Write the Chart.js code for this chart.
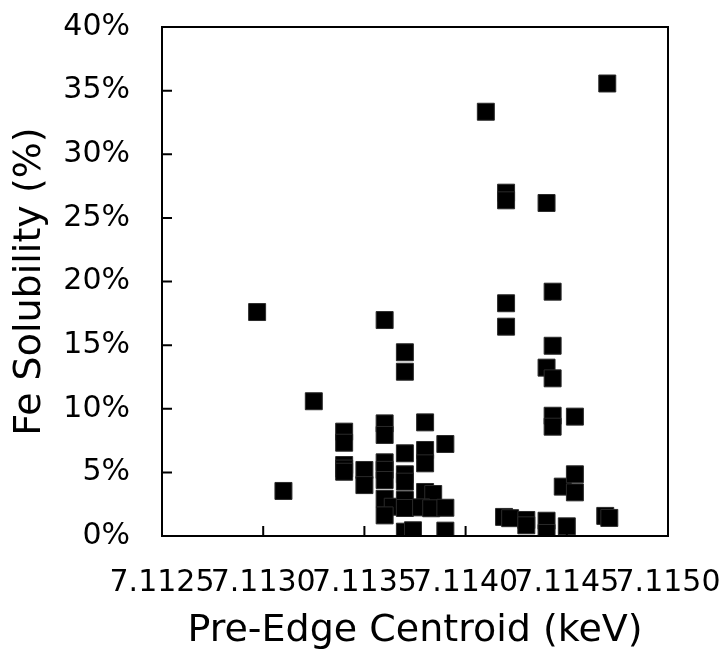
<!DOCTYPE html>
<html>
<head>
<meta charset="utf-8">
<script src="https://cdn.jsdelivr.net/npm/chart.js@4"></script>
<style>
  html, body { margin: 0; padding: 0; background: #fff; }
  #wrap { width: 727px; height: 650px; }
</style>
</head>
<body>
<div id="wrap"><canvas id="chart"></canvas></div>
<script>
// ============ Data ============
const xTicks = [7.1125, 7.1130, 7.1135, 7.1140, 7.1145, 7.1150];
const yTicks = [0, 5, 10, 15, 20, 25, 30, 35, 40];

// pre-edge centroid (keV)
const centroid = [
    7.11297, 7.11310, 7.11325,
    7.11340, 7.11340, 7.11340, 7.11340, 7.11340,
    7.11350, 7.11350,
    7.11360, 7.11360, 7.11360, 7.11360, 7.11360, 7.11360, 7.11360, 7.11364, 7.11360,
    7.11370, 7.11370, 7.11370, 7.11370, 7.11370, 7.11370, 7.11370, 7.11370, 7.11374,
    7.11380, 7.11380, 7.11380, 7.11380, 7.11384, 7.11378, 7.11383,
    7.11390, 7.11390, 7.11390,
    7.11410,
    7.11420, 7.11420, 7.11420, 7.11420, 7.11419, 7.11422,
    7.11430, 7.11430,
    7.11440, 7.11440, 7.11440, 7.11440,
    7.11443, 7.11443, 7.11443, 7.11443, 7.11443,
    7.11448,
    7.11454, 7.11454, 7.11454,
    7.11450,
    7.11470, 7.11469, 7.11471
];

// Fe solubility (%)
const solubility = [
    17.6, 3.54, 10.59,
    8.2, 7.33, 5.58, 5.3, 5.05,
    5.19, 4.0,
    16.97, 8.85, 7.94, 5.79, 5.2, 4.4, 2.93, 2.3, 1.62,
    14.44, 12.91, 6.5, 4.85, 4.27, 2.83, 2.2, 0.34, 0.45,
    8.93, 6.76, 5.71, 3.46, 3.3, 2.25, 2.18,
    7.23, 2.22, 0.42,
    33.34,
    26.98, 26.38, 18.29, 16.45, 1.5, 1.4,
    1.26, 0.84,
    26.17, 13.23, 1.2, 0.24,
    19.2, 14.95, 12.39, 9.45, 8.59,
    3.88,
    9.38, 4.85, 3.43,
    0.76,
    35.56, 1.58, 1.42
];

// ============ Frame + inward ticks ============
const frame = {
    id: 'frame',
    afterDraw(chart) {
        const { ctx, chartArea: a, scales: { x, y } } = chart;
        ctx.save();
        ctx.strokeStyle = '#000';
        ctx.lineWidth = 2;
        ctx.strokeRect(a.left, a.top, a.right - a.left, a.bottom - a.top);
        ctx.beginPath();
        xTicks.forEach(v => {
            const px = x.getPixelForValue(v);
            ctx.moveTo(px, a.bottom);
            ctx.lineTo(px, a.bottom - 10);
        });
        yTicks.forEach(v => {
            const py = y.getPixelForValue(v);
            ctx.moveTo(a.left, py);
            ctx.lineTo(a.left + 10, py);
        });
        ctx.stroke();
        ctx.restore();
    }
};

Chart.defaults.font.family = '"DejaVu Sans", Verdana, sans-serif';
Chart.defaults.color = '#000';

new Chart(document.getElementById('chart'), {
    type: 'scatter',
    data: {
        datasets: [{
            data: centroid.map((c, i) => ({ x: c, y: solubility[i] })),
            pointStyle: 'rect',
            pointRadius: 12,
            pointHoverRadius: 12,
            backgroundColor: '#000',
            borderColor: '#2a2a2a',
            borderWidth: 1
        }]
    },
    options: {
        responsive: true,
        maintainAspectRatio: false,
        animation: false,
        layout: { padding: { top: 27, right: 59, left: 0, bottom: 0 } },
        plugins: { legend: { display: false }, tooltip: { enabled: false } },
        scales: {
            x: {
                type: 'linear',
                min: 7.1125, max: 7.1150,
                afterBuildTicks: s => { s.ticks = xTicks.map(v => ({ value: v })); },
                afterFit: s => {
                    s.height = 114;
                    s.paddingLeft = 0;
                    s.paddingRight = 0;
                },
                grid: { display: false },
                border: { display: false },
                ticks: {
                    font: { size: 30 },
                    padding: 21,
                    maxRotation: 0,
                    autoSkip: false,
                    callback: v => v.toFixed(4)
                },
                title: {
                    display: true,
                    text: 'Pre-Edge Centroid (keV)',
                    font: { size: 38, lineHeight: 1 },
                    padding: { top: 0, bottom: 0 }
                }
            },
            y: {
                min: 0, max: 40,
                afterBuildTicks: s => { s.ticks = yTicks.map(v => ({ value: v })); },
                afterFit: s => {
                    s.width = 162;
                    s.paddingTop = 0;
                    s.paddingBottom = 0;
                },
                grid: { display: false },
                border: { display: false },
                ticks: {
                    font: { size: 30 },
                    padding: 24,
                    callback: v => v + '%'
                },
                title: {
                    display: true,
                    text: 'Fe Solubility (%)',
                    font: { size: 38 },
                    padding: { top: 7, bottom: 0 }
                }
            }
        }
    },
    plugins: [frame]
});
</script>
</body>
</html>
